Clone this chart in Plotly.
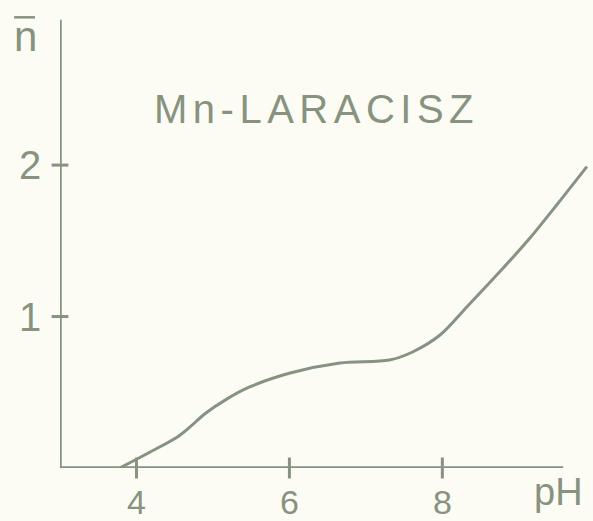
import plotly.graph_objects as go

# Mn-LARACISZ formation curve: average ligand number vs pH
ph = [3.78, 4.18, 4.55, 4.72, 4.90, 5.18, 5.48, 6.01, 6.66, 7.31, 7.61, 7.97,
      8.32, 8.75, 9.14, 9.50, 9.89]
nbar = [0.0, 0.106, 0.21, 0.28, 0.36, 0.455, 0.535, 0.627, 0.693, 0.713, 0.766, 0.878,
        1.063, 1.295, 1.515, 1.74, 1.99]

x_ticks = [4, 6, 8]
x_tick_labels = ["4", "6", "8"]
y_ticks = [1, 2]
y_tick_labels = ["1", "2"]

x_min, x_axis_end, x_max = 3.0, 9.58, 9.97
y_min, y_axis_top, y_max = 0.0, 2.96, 3.09

ink = "#87937f"
paper = "#fcfcf5"
font_family = "Liberation Sans"

fig = go.Figure()
fig.add_trace(go.Scatter(
    x=ph, y=nbar, mode="lines",
    line=dict(color=ink, width=3, shape="spline", smoothing=0.9),
    hoverinfo="skip", showlegend=False,
))

# tick marks crossing the axes
fig.add_trace(go.Scatter(
    x=x_ticks, y=[y_min] * len(x_ticks), mode="markers", cliponaxis=False,
    marker=dict(symbol="line-ns", size=15, line=dict(color=ink, width=3)),
    hoverinfo="skip", showlegend=False,
))
fig.add_trace(go.Scatter(
    x=[x_min] * len(y_ticks), y=y_ticks, mode="markers", cliponaxis=False,
    marker=dict(symbol="line-ew", size=12, line=dict(color=ink, width=3)),
    hoverinfo="skip", showlegend=False,
))

shapes = [
    dict(type="line", xref="x", yref="y", x0=x_min, x1=x_min, y0=y_min, y1=y_axis_top,
         line=dict(color=ink, width=3.5)),
    dict(type="line", xref="x", yref="y", x0=x_min, x1=x_axis_end, y0=y_min, y1=y_min,
         line=dict(color=ink, width=3.5)),
    # overbar of the n-bar symbol
    dict(type="line", xref="paper", yref="paper", x0=-0.086, x1=-0.047, y0=0.963, y1=0.963,
         line=dict(color=ink, width=2.5)),
]

annotations = []
for t, lab in zip(x_ticks, x_tick_labels):
    annotations.append(dict(x=t, y=0, xref="x", yref="y", text=lab, showarrow=False,
                            yshift=-34, font=dict(size=34, color=ink, family=font_family)))
for t, lab in zip(y_ticks, y_tick_labels):
    annotations.append(dict(x=x_min, y=t, xref="x", yref="y", text=lab, showarrow=False,
                            xanchor="right", xshift=-17,
                            font=dict(size=40, color=ink, family=font_family)))
annotations += [
    dict(x=9.52, y=0, xref="x", yref="y", text="pH", showarrow=False,
         yshift=-24, font=dict(size=38, color=ink, family=font_family)),
    dict(x=-0.064, y=0.923, xref="paper", yref="paper", text="n", showarrow=False,
         xanchor="center", yanchor="middle",
         font=dict(size=42, color=ink, family=font_family)),
    dict(x=6.36, y=2.37, xref="x", yref="y",
         text='<span style="letter-spacing:5.5px">Mn-LARACISZ</span>', showarrow=False,
         font=dict(size=40, color=ink, family=font_family)),
]

fig.update_layout(
    width=593, height=521,
    margin=dict(l=60, r=0, t=0, b=53),
    paper_bgcolor=paper, plot_bgcolor=paper,
    xaxis=dict(range=[x_min, x_max], visible=False, fixedrange=True),
    yaxis=dict(range=[y_min, y_max], visible=False, fixedrange=True),
    shapes=shapes, annotations=annotations,
)

fig.write_html("out.html")
